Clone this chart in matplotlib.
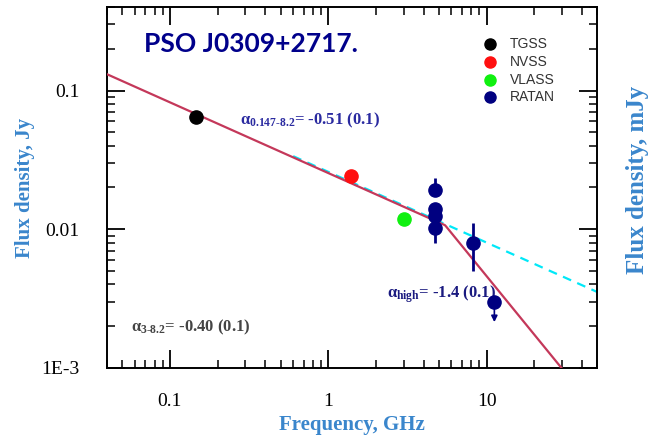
import numpy as np
import matplotlib
matplotlib.use("Agg")
import matplotlib.pyplot as plt
from matplotlib.ticker import FixedLocator, LogLocator, NullFormatter

# measurements (GHz, Jy)
tgss_freq = [0.147]
tgss_flux = [0.064]
nvss_freq = [1.4]
nvss_flux = [0.024]
vlass_freq = [3.0]
vlass_flux = [0.0118]
ratan_freq = [4.7, 4.7, 4.7, 4.7, 8.2]
ratan_flux = [0.0191, 0.0139, 0.0124, 0.0102, 0.0079]
ratan_err_lo = [0.0, 0.0, 0.0, 0.0022, 0.0029]
ratan_err_hi = [0.0042, 0.0, 0.0, 0.0, 0.0031]
ratan_lim_freq = [11.2]
ratan_lim_flux = [0.0030]

# broken power-law fit
s_1ghz = 0.0254
alpha_low = -0.51
alpha_high = -1.4
nu_break = 5.47

blue_lbl = '#3a86cc'
navy = '#000080'

plt.rcParams['mathtext.fontset'] = 'custom'
plt.rcParams['mathtext.rm'] = 'Liberation Serif:bold'
plt.rcParams['mathtext.bf'] = 'Liberation Serif:bold'
plt.rcParams['mathtext.it'] = 'Liberation Serif:bold'

fig = plt.figure(figsize=(6.52, 4.4), dpi=100)
ax = fig.add_axes([0.164, 0.164, 0.752, 0.820])
ax.set_xscale('log')
ax.set_yscale('log')
ax.set_xlim(0.04, 50)
ax.set_ylim(0.001, 0.4)

nu = np.logspace(np.log10(0.04), np.log10(50), 400)
s_break = s_1ghz * nu_break ** alpha_low
fit = np.where(nu < nu_break, s_1ghz * nu ** alpha_low,
               s_break * (nu / nu_break) ** alpha_high)
nu_c = np.logspace(np.log10(0.6), np.log10(50), 200)
ax.plot(nu_c, s_1ghz * 1.02 * nu_c ** alpha_low, color='#00e8f8', lw=1.6,
        ls=(0, (4, 3)), zorder=2)
ax.plot(nu, fit, color='#c4385a', lw=1.6, zorder=3)

ms = 9.5
ax.plot(tgss_freq, tgss_flux, 'o', color='black', ms=ms, zorder=5)
ax.plot(nvss_freq, nvss_flux, 'o', color='#ff1010', ms=ms, zorder=5)
ax.plot(vlass_freq, vlass_flux, 'o', color='#10f010', ms=ms, zorder=5)
ax.errorbar(ratan_freq, ratan_flux, yerr=[ratan_err_lo, ratan_err_hi],
            fmt='o', color=navy, ms=ms, elinewidth=2, capsize=0, zorder=5)
ax.plot(ratan_lim_freq, ratan_lim_flux, 'o', color=navy, ms=ms, zorder=5)
for f, s in zip(ratan_lim_freq, ratan_lim_flux):
    ax.annotate('', xy=(f, s * 0.68), xytext=(f, s),
                arrowprops=dict(arrowstyle='-|>', color=navy, lw=1.2,
                                mutation_scale=9), zorder=4)

# ticks
ax.tick_params(which='both', direction='in', top=True, right=True, color='black')
ax.tick_params(which='major', length=13, width=1.3)
ax.tick_params(which='minor', length=6, width=1.1)
ax.xaxis.set_major_locator(FixedLocator([0.1, 1, 10]))
ax.xaxis.set_minor_locator(LogLocator(base=10, subs=np.arange(2, 10)))
ax.xaxis.set_minor_formatter(NullFormatter())
ax.set_xticklabels(['0.1', '1', '10'])
ax.yaxis.set_major_locator(FixedLocator([0.001, 0.01, 0.1]))
ax.yaxis.set_minor_locator(LogLocator(base=10, subs=np.arange(2, 10)))
ax.yaxis.set_minor_formatter(NullFormatter())
ax.set_yticklabels(['1E-3', '0.01', '0.1'])
for lbl in ax.get_xticklabels() + ax.get_yticklabels():
    lbl.set_fontfamily('Liberation Serif')
    lbl.set_fontsize(14)
ax.tick_params(axis='x', pad=18)
ax.tick_params(axis='y', pad=20)
for sp in ax.spines.values():
    sp.set_linewidth(1.4)

ax.set_xlabel('Frequency, GHz', family='Liberation Serif', weight='bold',
              fontsize=15, color=blue_lbl, labelpad=4)
ax.set_ylabel('Flux density, Jy', family='Liberation Serif', weight='bold',
              fontsize=15, color=blue_lbl, labelpad=4)
fig.text(0.978, 0.59, 'Flux density, mJy', family='Liberation Serif',
         weight='bold', fontsize=18, color=blue_lbl, rotation=90,
         ha='center', va='center')

ax.text(0.075, 0.898, 'PSO J0309+2717.', transform=ax.transAxes,
        family='Lato', weight='bold', fontsize=19, color='#00008b',
        va='center')

# legend
leg_names = ['TGSS', 'NVSS', 'VLASS', 'RATAN']
leg_colors = ['black', '#ff1010', '#10f010', navy]
for i, (n, c) in enumerate(zip(leg_names, leg_colors)):
    y = 0.897 - i * 0.049
    ax.plot([0.782], [y], 'o', color=c, ms=8, transform=ax.transAxes,
            clip_on=False)
    ax.text(0.822, y, n, transform=ax.transAxes, family='Liberation Sans',
            fontsize=10, color='#333333', va='center')

ax.text(0.272, 0.675, r'$\alpha_{0.147\text{-}8.2}$= -0.51 (0.1)',
        transform=ax.transAxes, family='Liberation Serif', weight='bold',
        fontsize=12, color='#2a2aa0')
ax.text(0.572, 0.195, r'$\alpha_{\text{high}}$= -1.4 (0.1)',
        transform=ax.transAxes, family='Liberation Serif', weight='bold',
        fontsize=12, color='#1a1a80')
ax.text(0.05, 0.10, r'$\alpha_{3\text{-}8.2}$= -0.40 (0.1)',
        transform=ax.transAxes, family='Liberation Serif', weight='bold',
        fontsize=12, color='#444444')

fig.savefig('out.png', dpi=100)
